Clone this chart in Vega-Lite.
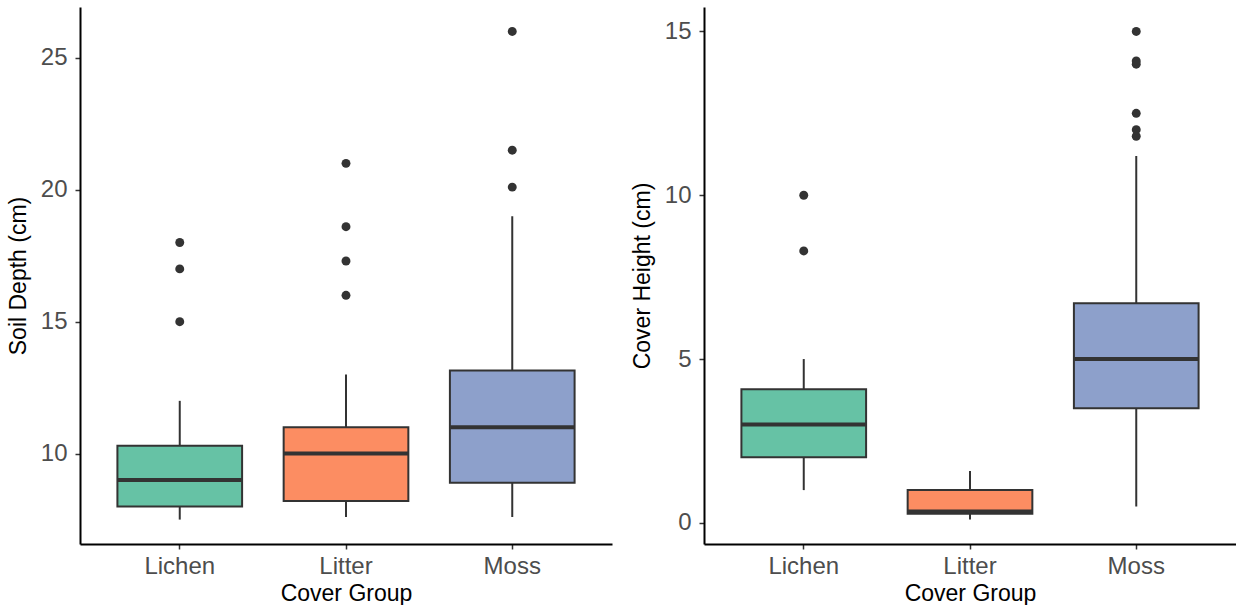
{
  "$schema": "https://vega.github.io/schema/vega-lite/v6.json",
  "padding": {"left": 7, "top": 7, "right": 0, "bottom": 0},
  "bounds": "flush",
  "spacing": 92,
  "datasets": {
    "soilBox": [
      {"group": "Lichen", "lo": 7.5, "q1": 8.0, "med": 9.0, "q3": 10.3, "hi": 12.0},
      {"group": "Litter", "lo": 7.6, "q1": 8.2, "med": 10.0, "q3": 11.0, "hi": 13.0},
      {"group": "Moss", "lo": 7.6, "q1": 8.9, "med": 11.0, "q3": 13.15, "hi": 19.0}
    ],
    "soilOut": [
      {"group": "Lichen", "value": 15.0},
      {"group": "Lichen", "value": 17.0},
      {"group": "Lichen", "value": 18.0},
      {"group": "Litter", "value": 16.0},
      {"group": "Litter", "value": 17.3},
      {"group": "Litter", "value": 18.6},
      {"group": "Litter", "value": 21.0},
      {"group": "Moss", "value": 20.1},
      {"group": "Moss", "value": 21.5},
      {"group": "Moss", "value": 26.0}
    ],
    "coverBox": [
      {"group": "Lichen", "lo": 1.0, "q1": 2.0, "med": 3.0, "q3": 4.08, "hi": 5.0},
      {"group": "Litter", "lo": 0.1, "q1": 0.28, "med": 0.35, "q3": 1.0, "hi": 1.58},
      {"group": "Moss", "lo": 0.5, "q1": 3.5, "med": 5.0, "q3": 6.7, "hi": 11.2}
    ],
    "coverOut": [
      {"group": "Lichen", "value": 8.3},
      {"group": "Lichen", "value": 10.0},
      {"group": "Moss", "value": 11.8},
      {"group": "Moss", "value": 12.0},
      {"group": "Moss", "value": 12.5},
      {"group": "Moss", "value": 14.0},
      {"group": "Moss", "value": 14.1},
      {"group": "Moss", "value": 15.0}
    ]
  },
  "hconcat": [
    {
      "width": 532,
      "height": 537,
      "encoding": {
        "x": {"field": "group", "type": "nominal", "title": "Cover Group",
              "scale": {"domain": ["Lichen", "Litter", "Moss"], "paddingInner": 0.25, "paddingOuter": 0.225},
              "axis": {"labelFontSize": 24, "labelPadding": 5, "titleFontSize": 23, "titlePadding": 4, "labelAngle": 0}}
      },
      "layer": [
        {
          "data": {"name": "soilBox"},
          "mark": {"type": "rule", "color": "#333333", "strokeWidth": 2},
          "encoding": {
            "y": {"field": "lo", "type": "quantitative", "title": "Soil Depth (cm)",
                  "scale": {"domain": [6.575, 26.925], "nice": false, "zero": false},
                  "axis": {"values": [10, 15, 20, 25], "labelFontSize": 24, "labelPadding": 8, "titleFontSize": 23, "titlePadding": 10}},
            "y2": {"field": "hi"}
          }
        },
        {
          "data": {"name": "soilBox"},
          "mark": {"type": "bar", "stroke": "#333333", "strokeWidth": 2},
          "encoding": {
            "y": {"field": "q1", "type": "quantitative"},
            "y2": {"field": "q3"},
            "fill": {"field": "group", "type": "nominal", "legend": null,
                     "scale": {"domain": ["Lichen", "Litter", "Moss"], "range": ["#66C2A5", "#FC8D62", "#8DA0CB"]}}
          }
        },
        {
          "data": {"name": "soilBox"},
          "mark": {"type": "tick", "orient": "horizontal", "thickness": 4, "size": 124, "color": "#333333", "opacity": 1},
          "encoding": {"y": {"field": "med", "type": "quantitative"}}
        },
        {
          "data": {"name": "soilOut"},
          "mark": {"type": "circle", "size": 80, "color": "#333333", "opacity": 1},
          "encoding": {"y": {"field": "value", "type": "quantitative"}}
        }
      ]
    },
    {
      "width": 532,
      "height": 537,
      "encoding": {
        "x": {"field": "group", "type": "nominal", "title": "Cover Group",
              "scale": {"domain": ["Lichen", "Litter", "Moss"], "paddingInner": 0.25, "paddingOuter": 0.225},
              "axis": {"labelFontSize": 24, "labelPadding": 5, "titleFontSize": 23, "titlePadding": 4, "labelAngle": 0}}
      },
      "layer": [
        {
          "data": {"name": "coverBox"},
          "mark": {"type": "rule", "color": "#333333", "strokeWidth": 2},
          "encoding": {
            "y": {"field": "lo", "type": "quantitative", "title": "Cover Height (cm)",
                  "scale": {"domain": [-0.645, 15.745], "nice": false, "zero": false},
                  "axis": {"values": [0, 5, 10, 15], "labelFontSize": 24, "labelPadding": 8, "titleFontSize": 23, "titlePadding": 10}},
            "y2": {"field": "hi"}
          }
        },
        {
          "data": {"name": "coverBox"},
          "mark": {"type": "bar", "stroke": "#333333", "strokeWidth": 2},
          "encoding": {
            "y": {"field": "q1", "type": "quantitative"},
            "y2": {"field": "q3"},
            "fill": {"field": "group", "type": "nominal", "legend": null,
                     "scale": {"domain": ["Lichen", "Litter", "Moss"], "range": ["#66C2A5", "#FC8D62", "#8DA0CB"]}}
          }
        },
        {
          "data": {"name": "coverBox"},
          "mark": {"type": "tick", "orient": "horizontal", "thickness": 4, "size": 124, "color": "#333333", "opacity": 1},
          "encoding": {"y": {"field": "med", "type": "quantitative"}}
        },
        {
          "data": {"name": "coverOut"},
          "mark": {"type": "circle", "size": 80, "color": "#333333", "opacity": 1},
          "encoding": {"y": {"field": "value", "type": "quantitative"}}
        }
      ]
    }
  ],
  "resolve": {"scale": {"fill": "independent"}},
  "config": {
    "view": {"stroke": null},
    "font": "Liberation Sans",
    "axis": {
      "grid": false,
      "domainColor": "#000000",
      "domainWidth": 2,
      "tickColor": "#333333",
      "tickWidth": 1.5,
      "tickSize": 5,
      "labelColor": "#4D4D4D",
      "labelFont": "Liberation Sans",
      "titleFont": "Liberation Sans",
      "titleColor": "#000000",
      "titleFontWeight": "normal"
    }
  }
}
